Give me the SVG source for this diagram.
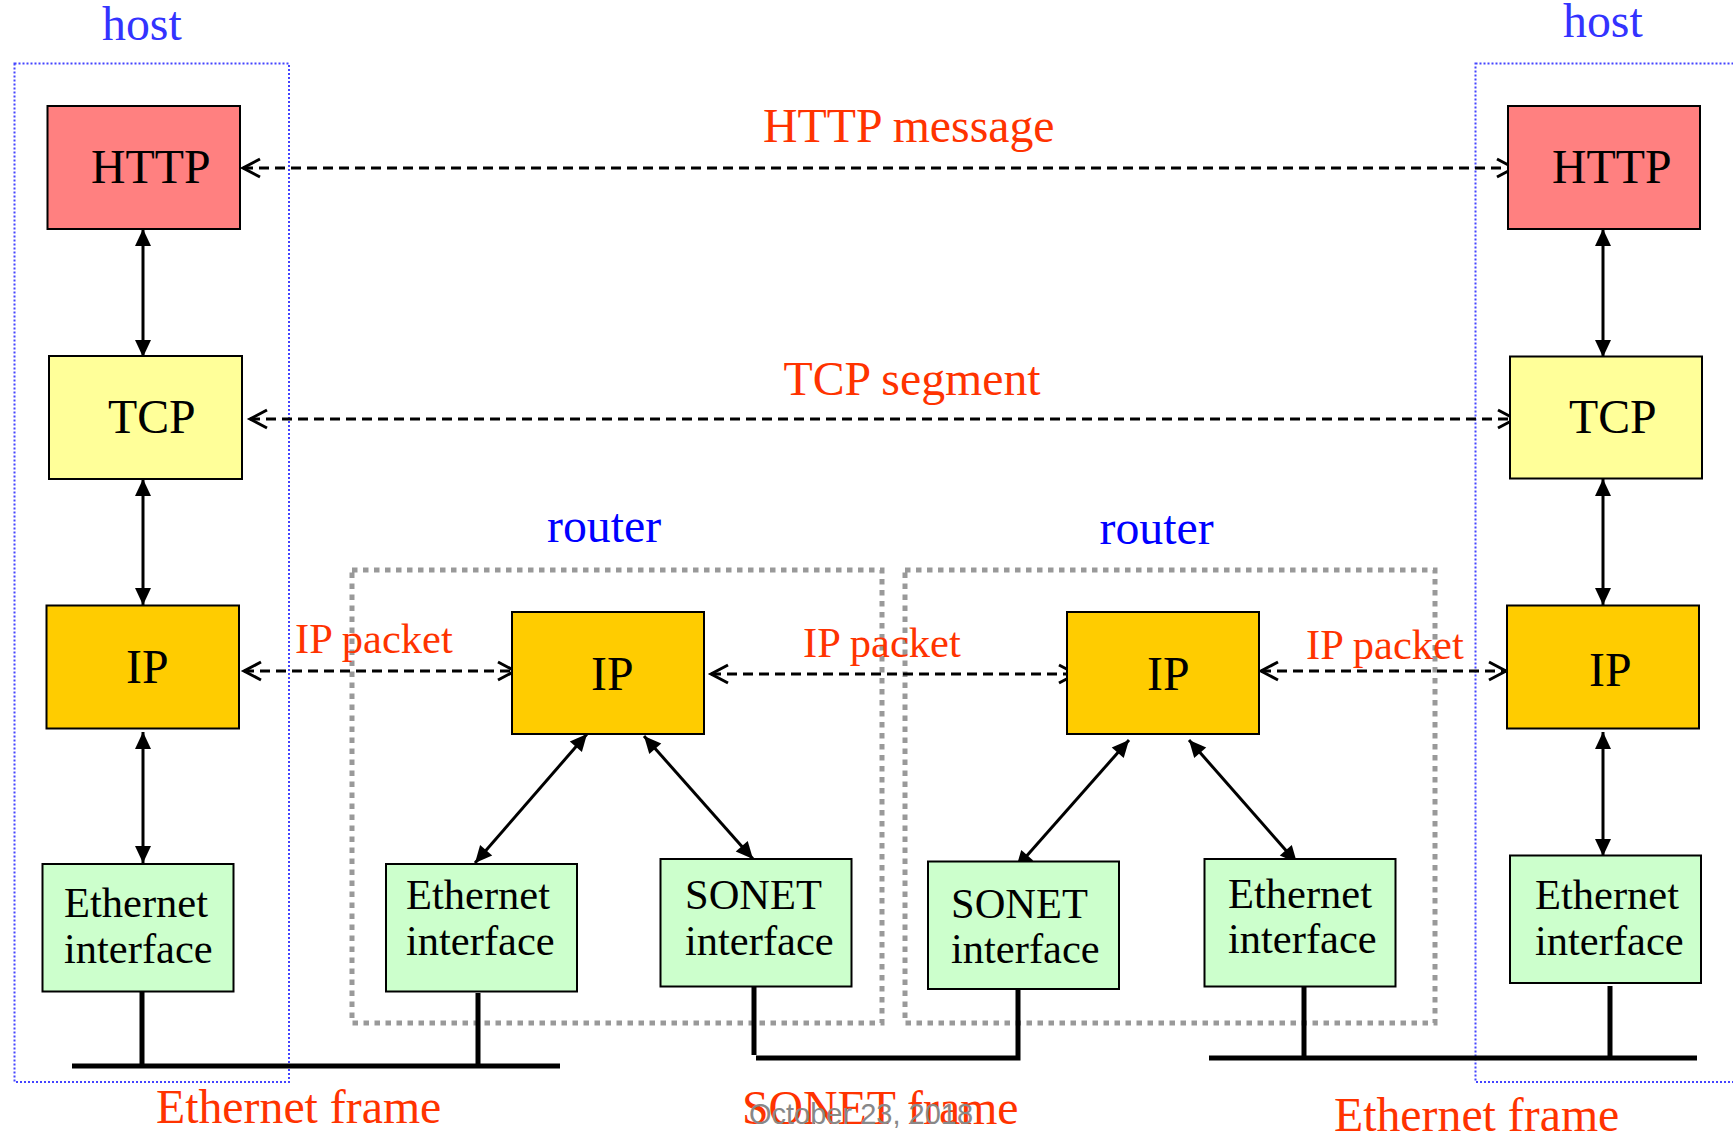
<svg xmlns="http://www.w3.org/2000/svg" width="1733" height="1135" viewBox="0 0 1733 1135">
<style>
.t{font-family:"Liberation Serif","Times New Roman",serif;fill:#000}
.big{font-size:47.8px}
.mid{font-size:42.5px}
.red{fill:#ff3300}
.blue{fill:#3333ff}
.rblue{fill:#0000ff}
.box{stroke:#000;stroke-width:2}
.http{fill:#ff8080}
.tcp{fill:#ffff99}
.ip{fill:#ffcc00}
.ifc{fill:#ccffcc}
.host{fill:none;stroke:#4444ff;stroke-width:2;stroke-dasharray:2 2}
.router{fill:none;stroke:#999;stroke-width:5;stroke-dasharray:5.5 5.5}
.dash{fill:none;stroke:#000;stroke-width:3;stroke-dasharray:10 6;marker-start:url(#open);marker-end:url(#open)}
.solid{fill:none;stroke:#000;stroke-width:3;marker-start:url(#fill);marker-end:url(#fill)}
.cable{fill:none;stroke:#000;stroke-width:5}
</style>
<defs>
<marker id="fill" markerUnits="userSpaceOnUse" markerWidth="18" markerHeight="18" refX="17" refY="8" orient="auto-start-reverse" overflow="visible">
<path d="M0,0 L17,8 L0,16 z" fill="#000"/>
</marker>
<marker id="open" markerUnits="userSpaceOnUse" markerWidth="20" markerHeight="20" refX="17" refY="9" orient="auto-start-reverse" overflow="visible">
<path d="M0,0 L17,9 L0,18" fill="none" stroke="#000" stroke-width="3"/>
</marker>
</defs>
<rect width="1733" height="1135" fill="#fff"/>

<g id="containers">
<rect class="host" x="14.5" y="63.5" width="274.5" height="1018.5"/>
<rect class="host" x="1475.5" y="63.5" width="300" height="1018.5"/>
<rect class="router" x="352" y="570" width="530" height="453"/>
<rect class="router" x="905" y="570" width="530" height="453"/>
<text class="t big blue" x="102" y="40">host</text>
<text class="t big blue" x="1563" y="37">host</text>
<text class="t big rblue" x="547" y="541.5">router</text>
<text class="t big rblue" x="1099.5" y="544">router</text>
</g>

<g id="connectors">
<path class="dash" d="M243,168 H1514"/>
<path class="dash" d="M250,419 H1515"/>
<path class="dash" d="M244,671 H515"/>
<path class="dash" d="M711,674 H1076"/>
<path class="dash" d="M1261,671 H1506"/>
<path class="solid" d="M143,229 V357"/>
<path class="solid" d="M143,479 V605"/>
<path class="solid" d="M143,732 V863"/>
<path class="solid" d="M1603,229 V357"/>
<path class="solid" d="M1603,479 V605"/>
<path class="solid" d="M1603,732 V856"/>
<path class="solid" d="M587,734 L475,863"/>
<path class="solid" d="M644,736 L753,859"/>
<path class="solid" d="M1129,740 L1016,868"/>
<path class="solid" d="M1189,740 L1297,863"/>
<path class="cable" d="M72,1066 H560 M142,988 V1066 M478,993 V1066"/>
<path class="cable" d="M754,987 V1055 M756,1058 H1018 V990"/>
<path class="cable" d="M1209,1058 H1697 M1304,987 V1058 M1610,986 V1056"/>
<text class="t big red" x="763" y="141.5">HTTP message</text>
<text class="t big red" x="783.5" y="395">TCP segment</text>
<text class="t mid red" x="295" y="653">IP packet</text>
<text class="t mid red" x="803" y="657">IP packet</text>
<text class="t mid red" x="1306" y="659">IP packet</text>
<text class="t big red" x="156" y="1123">Ethernet frame</text>
<text class="t big red" x="742" y="1124">SONET frame</text>
<text class="t big red" x="1334" y="1131">Ethernet frame</text>
</g>

<g id="h1-http"><rect class="box http" x="47.5" y="106" width="192.5" height="123"/><text class="t big" x="91" y="183">HTTP</text></g>
<g id="h1-tcp"><rect class="box tcp" x="49" y="356" width="193" height="123"/><text class="t big" x="108" y="433">TCP</text></g>
<g id="h1-ip"><rect class="box ip" x="46.5" y="605.5" width="192.5" height="123"/><text class="t big" x="126" y="683">IP</text></g>
<g id="h1-eth"><rect class="box ifc" x="42.5" y="864" width="191" height="127.5"/><text class="t mid" x="64" y="917">Ethernet</text><text class="t mid" x="64" y="963">interface</text></g>

<g id="r1-ip"><rect class="box ip" x="512" y="612" width="192" height="122"/><text class="t big" x="591" y="690">IP</text></g>
<g id="r1-eth"><rect class="box ifc" x="386" y="864" width="191" height="127.5"/><text class="t mid" x="406" y="909">Ethernet</text><text class="t mid" x="406" y="955">interface</text></g>
<g id="r1-sonet"><rect class="box ifc" x="660.5" y="859" width="191" height="127.5"/><text class="t mid" x="685" y="909">SONET</text><text class="t mid" x="685" y="955">interface</text></g>

<g id="r2-ip"><rect class="box ip" x="1067" y="612" width="192" height="122"/><text class="t big" x="1147" y="690">IP</text></g>
<g id="r2-sonet"><rect class="box ifc" x="928" y="861.5" width="191" height="127.5"/><text class="t mid" x="951" y="918">SONET</text><text class="t mid" x="951" y="963">interface</text></g>
<g id="r2-eth"><rect class="box ifc" x="1204.5" y="859" width="191" height="127.5"/><text class="t mid" x="1228" y="908">Ethernet</text><text class="t mid" x="1228" y="953">interface</text></g>

<g id="h2-http"><rect class="box http" x="1508" y="106" width="192" height="123"/><text class="t big" x="1552" y="183">HTTP</text></g>
<g id="h2-tcp"><rect class="box tcp" x="1510" y="356.5" width="192" height="122"/><text class="t big" x="1569" y="433">TCP</text></g>
<g id="h2-ip"><rect class="box ip" x="1507" y="605.5" width="192" height="123"/><text class="t big" x="1589" y="686">IP</text></g>
<g id="h2-eth"><rect class="box ifc" x="1510" y="855.5" width="191" height="127.5"/><text class="t mid" x="1535" y="909">Ethernet</text><text class="t mid" x="1535" y="955">interface</text></g>

<text x="749" y="1124" font-family="Liberation Sans, Arial, sans-serif" font-size="29" fill="#888">October 23, 2018</text>
</svg>
